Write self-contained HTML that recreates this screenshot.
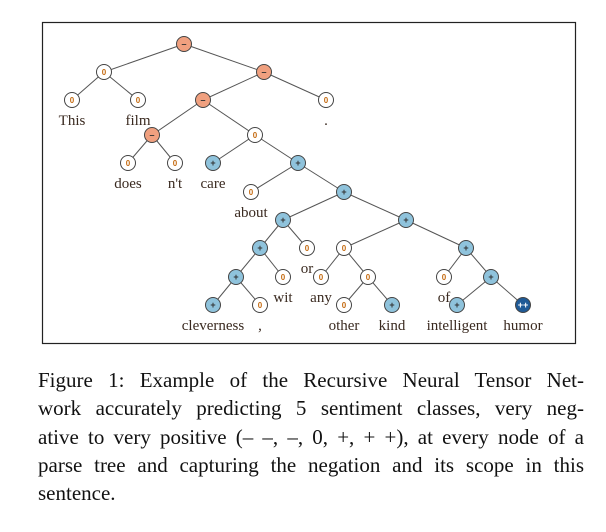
<!DOCTYPE html>
<html><head><meta charset="utf-8"><style>
body{margin:0;width:606px;height:532px;background:#fff;overflow:hidden;font-family:"Liberation Serif",serif}
#cap{position:absolute;left:38px;top:366px;width:546px;font-size:21px;line-height:28.3px;color:#111}
#cap div{text-align:justify;text-align-last:justify;white-space:nowrap}
#cap div.last{text-align-last:left}
</style></head><body>
<svg id="tree" width="606" height="360" style="position:absolute;left:0;top:0">
<rect x="42.5" y="22.5" width="533" height="321" fill="none" stroke="#222" stroke-width="1.2"/>
</svg>
<div id="cap">
<div>Figure 1: Example of the Recursive Neural Tensor Net-</div>
<div>work accurately predicting 5 sentiment classes, very neg-</div>
<div>ative to very positive (– –, –, 0, +, + +), at every node of a</div>
<div>parse tree and capturing the negation and its scope in this</div>
<div class="last">sentence.</div>
</div>
<script>
const nodeX=[184,104,72,138,264,326,203,152,128,175,255,213,298,251,344,283,406,260,307,344,466,236,283,321,368,444,491,213,260,344,392,457,523];
const nodeY=[44,72,100,100,72,100,100,135,163,163,135,163,163,192,192,220,220,248,248,248,248,277,277,277,277,277,277,305,305,305,305,305,305];
const parents=[-1,0,1,1,0,4,4,6,7,7,6,10,10,12,12,14,14,15,15,16,16,17,17,19,19,20,20,21,21,24,24,26,26];
const sentiment=["-","0","0","0","-","0","-","-","0","0","0","+","+","0","+","+","+","+","0","0","+","+","0","0","0","0","+","+","0","0","+","+","++"];
const words=["","","This","film","",".","","","does","n't","","care","","about","","","","","or","","","","wit","any","","of","","cleverness",",","other","kind","intelligent","humor"];
const svg=document.getElementById('tree');
const NS='http://www.w3.org/2000/svg';
parents.forEach((p,i)=>{if(p<0)return;
 const l=document.createElementNS(NS,'line');
 
 
 l.setAttribute('x1',nodeX[p]);l.setAttribute('y1',nodeY[p]);l.setAttribute('x2',nodeX[i]);l.setAttribute('y2',nodeY[i]);
 l.setAttribute('stroke','#555');l.setAttribute('stroke-width','1');svg.appendChild(l);});
const fills={"-":"#f0a07f","0":"#fff","+":"#8fc3dc","++":"#1f5a96"};
sentiment.forEach((s,i)=>{
 const c=document.createElementNS(NS,'circle');
 
 
 c.setAttribute('cx',nodeX[i]);c.setAttribute('cy',nodeY[i]);c.setAttribute('r',7.5);
 c.setAttribute('fill',fills[s]);c.setAttribute('stroke','#444');c.setAttribute('stroke-width','1');svg.appendChild(c);
 const t=document.createElementNS(NS,'text');
 
 
 t.setAttribute('x',nodeX[i]);t.setAttribute('y',nodeY[i]+3);t.setAttribute('text-anchor','middle');
 t.setAttribute('font-size',s=="0"?'8':'9');t.setAttribute('font-family','Liberation Sans, sans-serif');t.setAttribute('font-weight','bold');
 t.setAttribute('fill',s=="++"?'#fff':(s=="0"?'#c46a10':'#333'));t.textContent=s=="-"?"–":s;svg.appendChild(t);
 if(words[i]){const w=document.createElementNS(NS,'text');
 
 
 w.setAttribute('x',nodeX[i]);w.setAttribute('y',nodeY[i]+25);w.setAttribute('text-anchor','middle');
 w.setAttribute('font-size','15');w.setAttribute('font-family','Liberation Serif, serif');w.setAttribute('fill','#3a2a20');
 w.textContent=words[i];svg.appendChild(w);}
});
</script>
</body></html>
